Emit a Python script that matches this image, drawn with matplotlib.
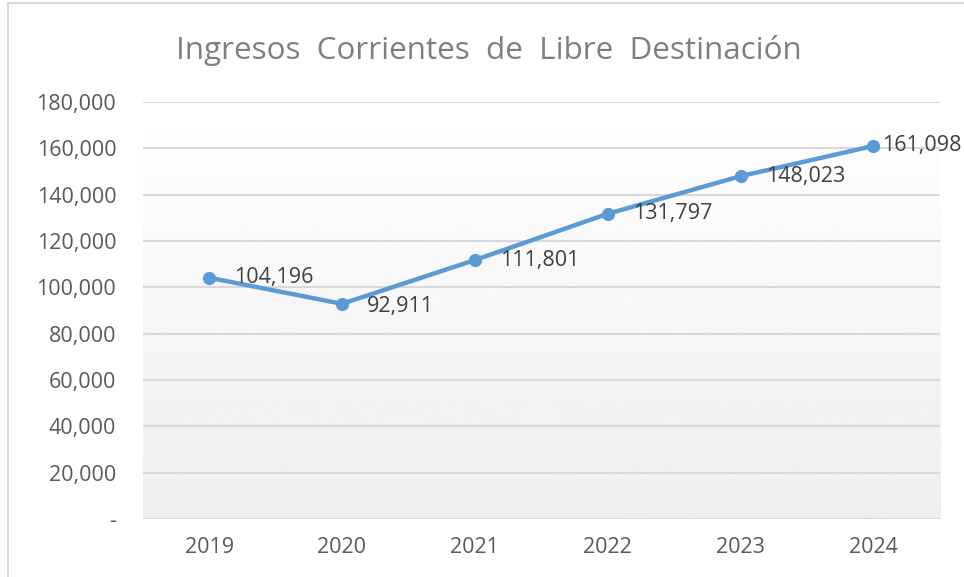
import matplotlib.pyplot as plt
import numpy as np
from matplotlib.lines import Line2D
from matplotlib.ticker import FuncFormatter

# datos
years = ["2019", "2020", "2021", "2022", "2023", "2024"]
ingresos = [104196, 92911, 111801, 131797, 148023, 161098]
y_ticks = [0, 20000, 40000, 60000, 80000, 100000, 120000, 140000, 160000, 180000]

plt.rcParams['font.family'] = ['Open Sans', 'DejaVu Sans']

fig = plt.figure(figsize=(9.64, 5.77), dpi=100)
ax = fig.add_axes([0.148, 0.1005, 0.827, 0.7225])

x = np.arange(len(years))

# fondo degradado tipo Excel
grad = np.linspace(1.0, 0.935, 256).reshape(-1, 1)
ax.imshow(grad, cmap='gray', vmin=0, vmax=1, aspect='auto',
          extent=[-0.5, len(years) - 0.5, 0, 180000], origin='upper', zorder=0)

ax.set_xlim(-0.5, len(years) - 0.5)
ax.set_ylim(0, 180000)

for t in y_ticks:
    ax.axhline(t, color='#D9D9D9', lw=1.5, zorder=1)

ax.plot(x, ingresos, color='#5B9BD5', lw=3.2, marker='o', markersize=8.5, zorder=3,
        solid_capstyle='round')

# etiquetas de datos (la ultima queda pegada al borde, como en Excel)
for i, (xi, v) in enumerate(zip(x, ingresos)):
    dx = 6 if i == len(x) - 1 else 18
    dy = -2 if i == 1 else 0
    ax.annotate(f"{v:,}", (xi, v), xytext=(dx, dy), textcoords='offset points',
                ha='left', va='center', fontsize=15.5, color='#404040', zorder=4,
                annotation_clip=False)

ax.set_xticks(x, years)
ax.set_yticks(y_ticks)
ax.yaxis.set_major_formatter(FuncFormatter(lambda v, p: "-" if v == 0 else f"{v:,.0f}"))
ax.tick_params(axis='both', length=0, labelsize=15.5, labelcolor='#595959')
ax.tick_params(axis='y', pad=19)
ax.tick_params(axis='x', pad=13)
for s in ax.spines.values():
    s.set_visible(False)

fig.text(0.507, 0.913, "Ingresos  Corrientes  de  Libre  Destinación", ha='center', va='center',
         fontsize=22.6, color='#7F7F7F')

# marco del gráfico
fig.add_artist(Line2D([8 / 964, 8 / 964], [0, 1 - 3 / 577], transform=fig.transFigure,
                      color='#D9D9D9', lw=1.5))
fig.add_artist(Line2D([8 / 964, 1], [1 - 3 / 577, 1 - 3 / 577], transform=fig.transFigure,
                      color='#D9D9D9', lw=1.5))

fig.savefig("out.png", dpi=100)
